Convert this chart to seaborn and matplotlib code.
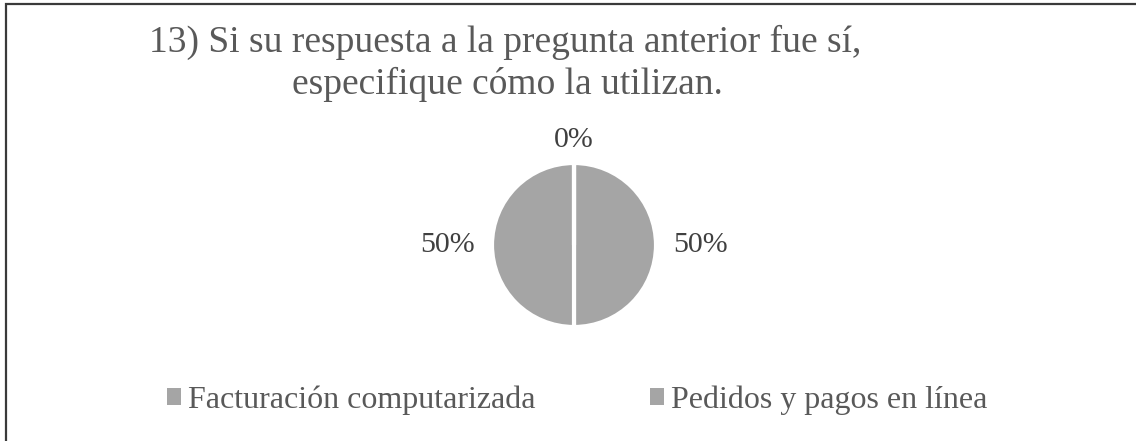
import matplotlib
matplotlib.use("Agg")
import matplotlib.pyplot as plt
import seaborn as sns
from matplotlib.patches import Patch, Rectangle

# datos del gráfico
categorias = ["Facturación computarizada", "Pedidos y pagos en línea", "Otro"]
valores = [50, 50, 0]
titulo_l1 = "13) Si su respuesta a la pregunta anterior fue sí,"
titulo_l2 = "especifique cómo la utilizan."

sns.set_theme(style="white")
plt.rcParams["font.family"] = ["Liberation Serif", "DejaVu Serif"]

color_gris = "#A5A5A5"
W, H = 1136, 441
fig = plt.figure(figsize=(W / 100, H / 100), dpi=100)

# borde del área del gráfico (solo arriba e izquierda visibles)
fig.patches.append(Rectangle((6 / W, -0.1), 1.2, 1.1 - 4 / H, transform=fig.transFigure,
                             fill=False, edgecolor="#3a3a3a", linewidth=1.6))

# pastel: centro (574, 245) px, radio 82 px
cx, cy, r = 574, 245, 82
ax = fig.add_axes([(cx - r) / W, (H - cy - r) / H, 2 * r / W, 2 * r / H])
total = sum(valores)
etiquetas = [f"{v / total * 100:.0f}%" for v in valores]
wedges, textos = ax.pie(valores, labels=etiquetas, colors=[color_gris] * len(valores),
                        startangle=90, counterclock=False, labeldistance=1.21,
                        wedgeprops=dict(edgecolor="white", linewidth=3),
                        textprops=dict(fontsize=21.5, color="#404040"))
ax.set_xlim(-1, 1)
ax.set_ylim(-1, 1)
for t in textos:
    x, y = t.get_position()
    if abs(x) < 1e-6:
        # etiqueta superior (0%) centrada
        t.set_ha("center")
        t.set_position((0, 1.28))

# título centrado en dos líneas
fig.text(505 / W, 1 - 52 / H, titulo_l1, fontsize=27, color="#595959", ha="center", va="baseline")
fig.text(507 / W, 1 - 94 / H, titulo_l2, fontsize=27, color="#595959", ha="center", va="baseline")

handles = [Patch(facecolor=color_gris, edgecolor="none") for _ in categorias[:2]]
fig.legend(handles, categorias[:2], loc="center", bbox_to_anchor=(577 / W, 1 - 400 / H),
           ncol=2, frameon=False, fontsize=23, handlelength=0.45, handleheight=0.45,
           handletextpad=0.2, columnspacing=3.6, labelcolor="#595959",
           borderpad=0, borderaxespad=0)

fig.savefig("out.png", dpi=100)
